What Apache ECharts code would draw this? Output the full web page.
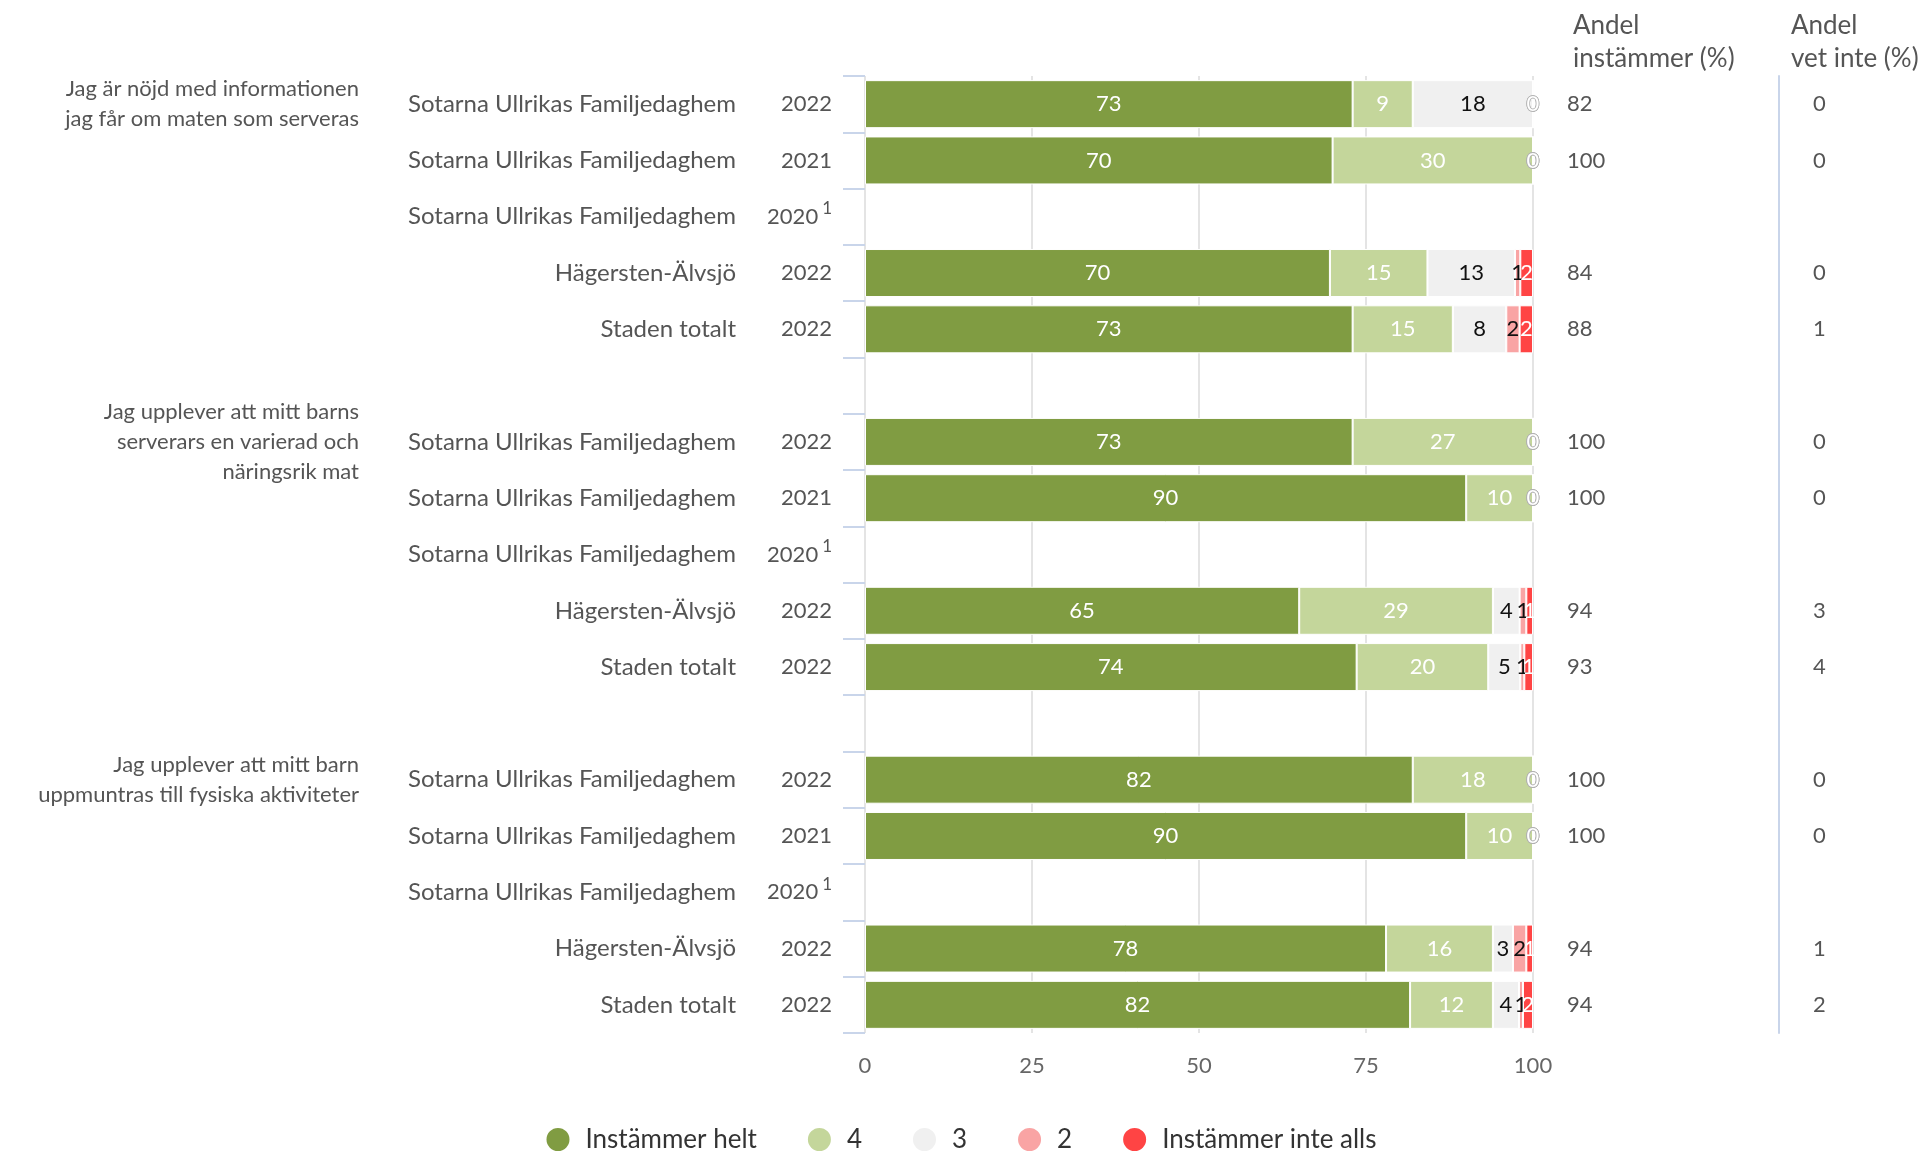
<!DOCTYPE html>
<html>
<head>
<meta charset="utf-8">
<script src="https://cdn.jsdelivr.net/npm/echarts@6/dist/echarts.min.js"></script>
<style>
  html, body { margin: 0; padding: 0; background: #fff; }
  #chart { width: 1921px; height: 1152px; }
</style>
</head>
<body>
<div id="chart"></div>
<script>
// rader uppifrån och ner, tomma rader mellan frågorna
const questions = [
  'Jag är nöjd med informationen\njag får om maten som serveras', '', '', '', '', '',
  'Jag upplever att mitt barns\nserverars en varierad och\nnäringsrik mat', '', '', '', '', '',
  'Jag upplever att mitt barn\nuppmuntras till fysiska aktiviteter', '', '', '', ''
];
const units = [
  'Sotarna Ullrikas Familjedaghem', 'Sotarna Ullrikas Familjedaghem', 'Sotarna Ullrikas Familjedaghem', 'Hägersten-Älvsjö', 'Staden totalt', '',
  'Sotarna Ullrikas Familjedaghem', 'Sotarna Ullrikas Familjedaghem', 'Sotarna Ullrikas Familjedaghem', 'Hägersten-Älvsjö', 'Staden totalt', '',
  'Sotarna Ullrikas Familjedaghem', 'Sotarna Ullrikas Familjedaghem', 'Sotarna Ullrikas Familjedaghem', 'Hägersten-Älvsjö', 'Staden totalt'
];
const years = [
  '2022', '2021', '2020*', '2022', '2022', '',
  '2022', '2021', '2020*', '2022', '2022', '',
  '2022', '2021', '2020*', '2022', '2022'
];
const names = ['Instämmer helt', '4', '3', '2', 'Instämmer inte alls'];
const colors = ['#809c42', '#c4d69b', '#f0f0f0', '#f9a4a4', '#ff4444'];
const labelColors = ['#fff', '#fff', '#111', '#111', '#fff'];

const helt  = [73, 70, null, 69.6, 73, null, 73, 90, null, 65, 73.6, null, 82, 90, null, 78, 81.6];
const fyra  = [9, 30, null, 14.6, 15, null, 27, 10, null, 29, 19.7, null, 18, 10, null, 16, 12.4];
const tre   = [18, 0, null, 13.1, 8, null, 0, 0, null, 4, 4.8, null, 0, 0, null, 3, 3.9];
const tva   = [0, 0, null, 0.8, 2, null, 0, 0, null, 1, 0.6, null, 0, 0, null, 2, 0.6];
const inteAlls = [0, 0, null, 1.9, 2, null, 0, 0, null, 1, 1.3, null, 0, 0, null, 1, 1.5];

const andelInstammer = [82, 100, null, 84, 88, null, 100, 100, null, 94, 93, null, 100, 100, null, 94, 94];
const andelVetInte   = [0, 0, null, 0, 1, null, 0, 0, null, 3, 4, null, 0, 0, null, 1, 2];

const xTicks = [0, 25, 50, 75, 100];

const FONT = 'Lato';
const TXT = '#555';

let chart = echarts.init(document.getElementById('chart'));

const seriesData = [helt, fyra, tre, tva, inteAlls];

const series = seriesData.map((d, i) => ({
  name: names[i],
  type: 'bar',
  stack: 'total',
  barWidth: 48,
  data: d,
  itemStyle: { color: colors[i], borderColor: '#fff', borderWidth: 1 },
  label: {
    show: true,
    position: 'inside',
    color: labelColors[i],
    fontFamily: FONT,
    fontSize: 22,
    formatter: function (p) {
      if (p.value == null) return '';
      if (p.value === 0) return '{z|0}';
      return String(Math.round(p.value));
    },
    rich: {
      z: { color: '#fff', textBorderColor: '#b0b0b0', textBorderWidth: 1.5, fontSize: 22, fontFamily: FONT }
    }
  },
  emphasis: { disabled: true }
}));

const catAxis = {
  type: 'category',
  inverse: true,
  axisLine: { show: false },
  axisTick: { show: false },
  splitLine: { show: false }
};

const labelBase = { interval: 0, color: TXT, fontFamily: FONT, fontSize: 22 };

const option = {
  animation: false,
  textStyle: { fontFamily: FONT },
  grid: { left: 865, right: 388, top: 76, bottom: 119, containLabel: false, outerBoundsMode: 'none' },
  legend: {
    data: names,
    icon: 'circle',
    itemWidth: 25,
    itemHeight: 25,
    itemGap: 49,
    left: 'center',
    top: 1121,
    textStyle: { color: '#333', fontSize: 26, fontFamily: FONT, padding: [0, 0, 0, 10] }
  },
  xAxis: {
    type: 'value',
    min: xTicks[0],
    max: xTicks[xTicks.length - 1],
    interval: 25,
    axisLine: { show: false },
    axisTick: { show: false },
    splitLine: { show: true, lineStyle: { color: '#e4e4e4', width: 2 } },
    axisLabel: { color: '#666', fontSize: 22, fontFamily: FONT, margin: 22 }
  },
  yAxis: [
    Object.assign({}, catAxis, {
      position: 'left',
      data: years,
      axisTick: { show: true, length: 22, lineStyle: { color: '#c9d5ea', width: 2 } },
      axisLabel: Object.assign({}, labelBase, {
        margin: 33,
        formatter: function (v) {
          if (v.indexOf('*') >= 0) return '{y|' + v.replace('*', '') + '}{s|1}';
          return v;
        },
        rich: {
          y: { color: TXT, fontFamily: FONT, fontSize: 22 },
          s: { color: TXT, fontFamily: FONT, fontSize: 17, padding: [0, 0, 16, 4] }
        }
      })
    }),
    Object.assign({}, catAxis, {
      position: 'left',
      data: units,
      axisLabel: Object.assign({}, labelBase, { margin: 129, fontSize: 24 })
    }),
    Object.assign({}, catAxis, {
      position: 'left',
      data: questions,
      axisLabel: Object.assign({}, labelBase, { margin: 506, lineHeight: 30 })
    }),
    Object.assign({}, catAxis, {
      position: 'right',
      data: andelInstammer.map(v => v == null ? '' : String(v)),
      axisLabel: Object.assign({}, labelBase, { margin: 34 })
    }),
    Object.assign({}, catAxis, {
      position: 'right',
      offset: 246,
      data: andelVetInte.map(v => v == null ? '' : String(v)),
      axisLine: { show: true, lineStyle: { color: '#c9d5ea', width: 2 } },
      axisLabel: Object.assign({}, labelBase, { margin: 34 })
    })
  ],
  graphic: [
    { type: 'text', left: 1573, top: 9, style: { text: 'Andel\ninstämmer (%)', fill: TXT, font: '26px ' + FONT, lineHeight: 33 } },
    { type: 'text', left: 1791, top: 9, style: { text: 'Andel\nvet inte (%)', fill: TXT, font: '26px ' + FONT, lineHeight: 33 } }
  ],
  series: series
};

chart.setOption(option);
window.addEventListener('resize', () => {
  chart.resize();
});
</script>
</body>
</html>
